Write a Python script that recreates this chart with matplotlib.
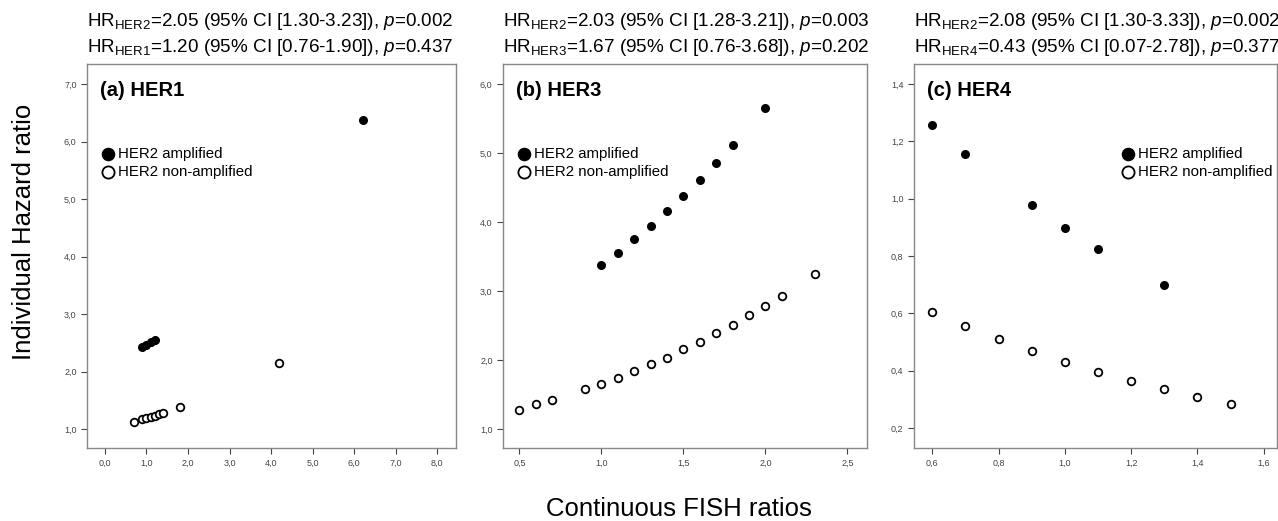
import matplotlib.pyplot as plt
from matplotlib.ticker import FuncFormatter

plt.rcParams["font.family"] = ["Liberation Sans", "DejaVu Sans"]
plt.rcParams["mathtext.fontset"] = "custom"
plt.rcParams["mathtext.rm"] = "Liberation Sans"
plt.rcParams["mathtext.it"] = "Liberation Sans:italic"

# (a) HER1
her1_amp_x = [0.9, 1.0, 1.1, 1.2, 6.2]
her1_amp_y = [2.42, 2.46, 2.51, 2.55, 6.37]
her1_non_x = [0.7, 0.9, 1.0, 1.1, 1.2, 1.3, 1.4, 1.8, 4.2]
her1_non_y = [1.13, 1.17, 1.19, 1.21, 1.23, 1.26, 1.28, 1.38, 2.15]

# (b) HER3
her3_amp_x = [1.0, 1.1, 1.2, 1.3, 1.4, 1.5, 1.6, 1.7, 1.8, 2.0]
her3_amp_y = [3.38, 3.56, 3.75, 3.95, 4.16, 4.38, 4.61, 4.85, 5.11, 5.66]
her3_non_x = [0.5, 0.6, 0.7, 0.9, 1.0, 1.1, 1.2, 1.3, 1.4, 1.5, 1.6, 1.7,
              1.8, 1.9, 2.0, 2.1, 2.3]
her3_non_y = [1.28, 1.36, 1.42, 1.58, 1.66, 1.75, 1.84, 1.94, 2.04, 2.16,
              2.26, 2.39, 2.51, 2.65, 2.79, 2.93, 3.25]

# (c) HER4
her4_amp_x = [0.6, 0.7, 0.9, 1.0, 1.1, 1.3]
her4_amp_y = [1.258, 1.156, 0.977, 0.898, 0.825, 0.698]
her4_non_x = [0.6, 0.7, 0.8, 0.9, 1.0, 1.1, 1.2, 1.3, 1.4, 1.5]
her4_non_y = [0.603, 0.554, 0.510, 0.469, 0.431, 0.396, 0.364, 0.335, 0.307, 0.283]

titles = [
    ("HR$_{\\mathrm{HER2}}$=2.05 (95% CI [1.30-3.23]), $\\mathit{p}$=0.002",
     "HR$_{\\mathrm{HER1}}$=1.20 (95% CI [0.76-1.90]), $\\mathit{p}$=0.437"),
    ("HR$_{\\mathrm{HER2}}$=2.03 (95% CI [1.28-3.21]), $\\mathit{p}$=0.003",
     "HR$_{\\mathrm{HER3}}$=1.67 (95% CI [0.76-3.68]), $\\mathit{p}$=0.202"),
    ("HR$_{\\mathrm{HER2}}$=2.08 (95% CI [1.30-3.33]), $\\mathit{p}$=0.002",
     "HR$_{\\mathrm{HER4}}$=0.43 (95% CI [0.07-2.78]), $\\mathit{p}$=0.377"),
]
panel_labels = ["(a) HER1", "(b) HER3", "(c) HER4"]

W, H = 1278, 521
fig = plt.figure(figsize=(W / 100, H / 100), dpi=100)
fig.patch.set_facecolor("white")

# pixel boxes: left, right, top, bottom
boxes = [(87, 456, 64, 448), (503, 867, 64, 448), (914, 1277, 64, 448)]
xlims = [(-0.43, 8.45), (0.40, 2.62), (0.545, 1.64)]
ylims = [(0.67, 7.35), (0.73, 6.29), (0.13, 1.47)]
xticks = [[0, 1, 2, 3, 4, 5, 6, 7, 8], [0.5, 1.0, 1.5, 2.0, 2.5],
          [0.6, 0.8, 1.0, 1.2, 1.4, 1.6]]
yticks = [[1, 2, 3, 4, 5, 6, 7], [1, 2, 3, 4, 5, 6],
          [0.2, 0.4, 0.6, 0.8, 1.0, 1.2, 1.4]]
data = [(her1_amp_x, her1_amp_y, her1_non_x, her1_non_y),
        (her3_amp_x, her3_amp_y, her3_non_x, her3_non_y),
        (her4_amp_x, her4_amp_y, her4_non_x, her4_non_y)]
legend_pos = [(0.02, 0.80), (0.02, 0.80), (0.553, 0.80)]

fmt = FuncFormatter(lambda v, p: f"{v:.1f}".replace(".", ","))

for i in range(3):
    l, r, t, b = boxes[i]
    ax = fig.add_axes([l / W, 1 - b / H, (r - l) / W, (b - t) / H])
    ax_, ay_, nx_, ny_ = data[i]
    ax.scatter(ax_, ay_, s=30, color="black", zorder=3, label="HER2 amplified")
    ax.scatter(nx_, ny_, s=30, facecolor="white", edgecolor="black",
               linewidth=1.3, zorder=3, label="HER2 non-amplified")
    ax.set_xlim(xlims[i])
    ax.set_ylim(ylims[i])
    ax.set_xticks(xticks[i])
    ax.set_yticks(yticks[i])
    ax.xaxis.set_major_formatter(fmt)
    ax.yaxis.set_major_formatter(fmt)
    ax.tick_params(labelsize=6.5, colors="#444444", length=4, width=0.8)
    for sp in ax.spines.values():
        sp.set_color("#888888")
        sp.set_linewidth(1.0)
    ax.text(0.035, 0.955, panel_labels[i], transform=ax.transAxes,
            fontsize=14.5, fontweight="bold", va="top", ha="left")
    ax.legend(loc="upper left", bbox_to_anchor=legend_pos[i],
              frameon=False, fontsize=10.8, handletextpad=0.15,
              borderaxespad=0, labelspacing=0.25, handlelength=1.0,
              markerscale=1.6)
    fig.text(l / W, 1 - 22 / H, titles[i][0], fontsize=13.6, va="center", ha="left")
    fig.text(l / W, 1 - 47 / H, titles[i][1], fontsize=13.6, va="center", ha="left")

fig.text(24 / W, 1 - 232 / H, "Individual Hazard ratio", rotation=90,
         fontsize=18.5, va="center", ha="center")
fig.text(679 / W, 1 - 509 / H, "Continuous FISH ratios", fontsize=18.5,
         va="center", ha="center")

plt.savefig("out.png", dpi=100)
